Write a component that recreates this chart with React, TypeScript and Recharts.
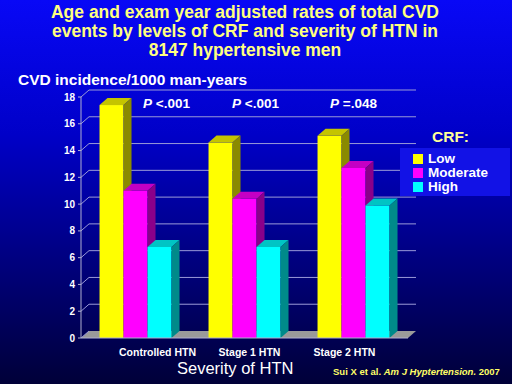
import React from 'react';
import { BarChart, Bar, XAxis, YAxis, CartesianGrid } from 'recharts';

const categories = ['Controlled HTN', 'Stage 1 HTN', 'Stage 2 HTN'];
const lowCRF = [17.4, 14.6, 15.1];
const moderateCRF = [11.0, 10.4, 12.7];
const highCRF = [6.8, 6.8, 9.9];
const pValues = ['<.001', '<.001', '=.048'];
const yTicks = [0, 2, 4, 6, 8, 10, 12, 14, 16, 18];
const seriesNames = ['Low', 'Moderate', 'High'];
const seriesColors = ['#ffff00', '#ff00ff', '#00ffff'];

const data = categories.map((name, i) => ({
  name,
  low: lowCRF[i],
  moderate: moderateCRF[i],
  high: highCRF[i],
}));

const W = 512;
const H = 384;
const MARGIN = { top: 97, right: 104, bottom: 16, left: 0 };
const XAXIS_H = 30;
const FLOOR_Y = H - MARGIN.bottom - XAXIS_H;
const DX = 8;
const DY = -7;
const GRID = '#9a9ad8';
const FONT = '"Liberation Sans", Arial, sans-serif';
// the slide's category labels sit a little off the bar-group centres
const LABEL_SHIFT = [22, 5, -9];

const bar3d = (front: string, top: string, side: string) => (props: any) => {
  const { x, y, width, height } = props;
  if (!width || height == null) return <g />;
  return (
    <g>
      <rect x={x} y={y} width={width} height={height} fill={front} />
      <polygon
        points={`${x},${y} ${x + DX},${y + DY} ${x + width + DX},${y + DY} ${x + width},${y}`}
        fill={top}
      />
      <polygon
        points={`${x + width},${y} ${x + width + DX},${y + DY} ${x + width + DX},${y + height + DY} ${x + width},${y + height}`}
        fill={side}
      />
    </g>
  );
};

const gridLine = (props: any) => {
  const { x1, y1, x2 } = props;
  const isFloor = Math.abs(y1 - FLOOR_Y) < 1;
  return (
    <g key={`g-${y1}`}>
      {isFloor && (
        <polygon
          points={`${x1},${y1} ${x1 + DX},${y1 + DY} ${x2 + DX},${y1 + DY} ${x2},${y1}`}
          fill="#9a9a9a"
        />
      )}
      <line x1={x1} y1={y1} x2={x1 + DX} y2={y1 + DY} stroke={GRID} strokeWidth={1} />
      {!isFloor && (
        <line x1={x1 + DX} y1={y1 + DY} x2={x2 + DX} y2={y1 + DY} stroke={GRID} strokeWidth={1} />
      )}
    </g>
  );
};

const categoryTick = (props: any) => {
  const { x, y, payload, index } = props;
  return (
    <text
      x={x + (LABEL_SHIFT[index] || 0)}
      y={y + 10}
      textAnchor="middle"
      fill="#ffffff"
      fontSize={10.5}
      fontWeight="bold"
      fontFamily={FONT}
    >
      {payload.value}
    </text>
  );
};

export default function App() {
  return (
    <div
      style={{
        position: 'fixed',
        left: 0,
        top: 0,
        width: W,
        height: H,
        fontFamily: FONT,
        background: 'linear-gradient(to bottom, #0808f6 0%, #0000c8 35%, #00007a 70%, #000038 100%)',
        overflow: 'hidden',
      }}
    >
      <div
        style={{
          position: 'absolute',
          left: 0,
          top: 3,
          width: 490,
          textAlign: 'center',
          color: '#ffff80',
          fontWeight: 'bold',
          fontSize: 17.5,
          lineHeight: '19px',
        }}
      >
        Age and exam year adjusted rates of total CVD
        <br />
        events by levels of CRF and severity of HTN in
        <br />
        8147 hypertensive men
      </div>
      <div
        style={{
          position: 'absolute',
          left: 18,
          top: 71,
          color: '#ffffff',
          fontWeight: 'bold',
          fontSize: 15.5,
        }}
      >
        CVD incidence/1000 man-years
      </div>
      <div style={{ position: 'absolute', left: 0, top: 0 }}>
        <BarChart width={W} height={H} data={data} margin={MARGIN} barGap={0} barCategoryGap="17%">
          <CartesianGrid horizontal={gridLine} vertical={false} />
          <XAxis
            dataKey="name"
            height={XAXIS_H}
            axisLine={{ stroke: '#b0b0d0' }}
            tickLine={false}
            interval={0}
            tick={categoryTick}
          />
          <YAxis
            width={81}
            domain={[0, 18]}
            ticks={yTicks}
            interval={0}
            axisLine={{ stroke: '#b0b0d0' }}
            tickLine={{ stroke: '#b0b0d0' }}
            tickSize={3}
            tickMargin={3}
            tick={{ fill: '#ffffff', fontSize: 10, fontWeight: 'bold', fontFamily: FONT }}
          />
          <Bar dataKey="low" name="Low" fill="#ffff00" isAnimationActive={false} shape={bar3d('#ffff00', '#c4c400', '#8a8a00')} />
          <Bar dataKey="moderate" name="Moderate" fill="#ff00ff" isAnimationActive={false} shape={bar3d('#ff00ff', '#c400c4', '#8a008a')} />
          <Bar dataKey="high" name="High" fill="#00ffff" isAnimationActive={false} shape={bar3d('#00ffff', '#00c4c4', '#008a8a')} />
        </BarChart>
      </div>
      {pValues.map((p, i) => (
        <div
          key={i}
          style={{
            position: 'absolute',
            left: [143, 232, 330][i],
            top: 96,
            color: '#ffffff',
            fontWeight: 'bold',
            fontSize: 13.5,
          }}
        >
          <i>P</i> {p}
        </div>
      ))}
      <div
        style={{
          position: 'absolute',
          left: 432,
          top: 128,
          color: '#ffff99',
          fontWeight: 'bold',
          fontSize: 15.5,
        }}
      >
        CRF:
      </div>
      <div
        style={{
          position: 'absolute',
          left: 400,
          top: 148,
          width: 110,
          height: 48,
          paddingTop: 4,
          boxSizing: 'border-box',
          background: '#1212e6',
        }}
      >
        {seriesNames.map((n, i) => (
          <div
            key={n}
            style={{
              display: 'flex',
              alignItems: 'center',
              height: 14,
              paddingLeft: 13,
              color: '#ffffff',
              fontSize: 13.5,
              fontWeight: 'bold',
              lineHeight: '14px',
            }}
          >
            <span style={{ display: 'inline-block', width: 10, height: 10, background: seriesColors[i], marginRight: 5 }} />
            {n}
          </div>
        ))}
      </div>
      <div
        style={{
          position: 'absolute',
          left: 177,
          top: 359,
          color: '#ffffff',
          fontSize: 16.5,
        }}
      >
        Severity of HTN
      </div>
      <div
        style={{
          position: 'absolute',
          left: 333,
          top: 366,
          color: '#ffff66',
          fontWeight: 'bold',
          fontSize: 9.5,
        }}
      >
        Sui X et al. <i>Am J Hyptertension.</i> 2007
      </div>
    </div>
  );
}
